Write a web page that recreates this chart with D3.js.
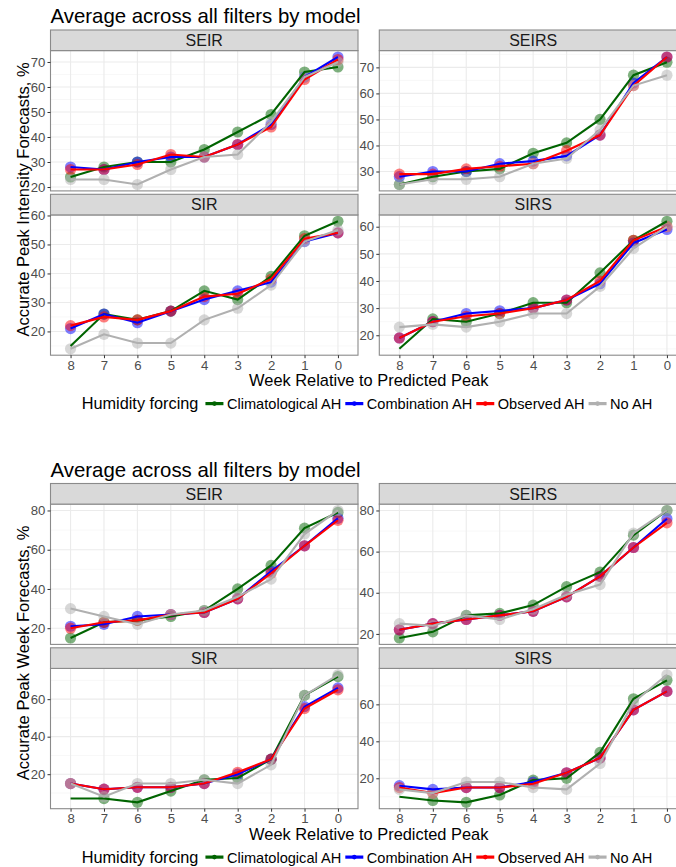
<!DOCTYPE html>
<html>
<head>
<meta charset="UTF-8">
<script src="https://d3js.org/d3.v7.min.js"></script>
<style>
  body { margin: 0; background: #fff; }
  text { font-family: "Liberation Sans", Arial, sans-serif; }
</style>
</head>
<body>
<script>
var width = 676, height = 867;

var weeks = [8, 7, 6, 5, 4, 3, 2, 1, 0];
var models = ["SEIR", "SEIRS", "SIR", "SIRS"];
var forcings = ["Climatological AH", "Combination AH", "Observed AH", "No AH"];
var colors = ["#006400", "#0000ff", "#ff0000", "#b0b0b0"];

// accurate peak intensity forecasts, % (one row per forcing, weeks 8 -> 0)
var intensitySEIR = [
  [24, 28, 30, 30, 35, 42, 49, 66, 68],
  [28, 27, 30, 32, 32, 37, 45, 64, 72],
  [27, 27, 29, 33, 32, 37, 44, 63, 71],
  [23, 23, 21, 27, 32, 33, 46, 64, 70]
];
var intensitySEIRS = [
  [25, 28, 30, 31, 37, 41, 50, 67, 72],
  [28, 30, 30, 33, 34, 36, 44, 64, 74],
  [29, 29, 31, 32, 33, 38, 44, 63, 74],
  [25, 27, 27, 28, 33, 35, 46, 63, 67]
];
var intensitySIR = [
  [15, 26, 24, 27, 34, 31, 39, 53, 58],
  [21, 26, 23, 27, 31, 34, 37, 51, 54],
  [22, 25, 24, 27, 32, 33, 38, 52, 54],
  [14, 19, 16, 16, 24, 28, 36, 51, 55]
];
var intensitySIRS = [
  [15, 26, 25, 28, 32, 32, 43, 55, 62],
  [19, 25, 28, 29, 30, 33, 39, 54, 59],
  [19, 25, 27, 28, 30, 33, 40, 55, 60],
  [23, 24, 23, 25, 28, 28, 38, 52, 60]
];

// accurate peak week forecasts, %
var peakWeekSEIR = [
  [15, 23, 24, 26, 29, 40, 52, 71, 79],
  [21, 22, 26, 27, 28, 35, 49, 62, 76],
  [20, 23, 24, 27, 28, 35, 48, 62, 75],
  [30, 26, 22, 27, 29, 36, 45, 68, 80]
];
var peakWeekSEIRS = [
  [18, 21, 29, 30, 34, 43, 50, 68, 80],
  [22, 25, 27, 29, 31, 38, 48, 62, 76],
  [22, 25, 27, 29, 31, 38, 48, 62, 74],
  [25, 24, 29, 27, 32, 39, 44, 69, 80]
];
var peakWeekSIR = [
  [7, 7, 5, 11, 17, 18, 28, 62, 72],
  [15, 12, 13, 13, 15, 20, 28, 56, 66],
  [15, 12, 13, 13, 15, 21, 28, 55, 65],
  [15, 8, 15, 15, 17, 15, 25, 62, 73]
];
var peakWeekSIRS = [
  [10, 8, 7, 11, 19, 20, 34, 63, 73],
  [16, 14, 15, 15, 18, 23, 31, 57, 67],
  [15, 12, 15, 15, 17, 23, 31, 57, 67],
  [14, 12, 18, 18, 15, 14, 28, 61, 76]
];

// points that have no marker drawn in the original (line only)
var noMarker = [["SIR", "Climatological AH", 8], ["SIRS", "Climatological AH", 8]];

var svg = d3.select("body").append("svg")
  .attr("width", width)
  .attr("height", height);

// panel columns (the right one runs off the picture, as in the original)
var panelX = [[50.5, 358], [379.3, 687]];
var stripH = 20.6, plotH = 140.3, rowGap = 3.4;

function hasMarker(model, forcing, wk) {
  return !noMarker.some(function (n) {
    return n[0] == model && n[1] == forcing && n[2] == wk;
  });
}

function drawChart(top, title, yTitle, panels) {
  var g = svg.append("g").attr("transform", "translate(0," + top + ")");

  g.append("text")
    .attr("x", 50.5)
    .attr("y", 23.3)
    .style("font-size", "20.4px")
    .attr("fill", "#000")
    .text(title);

  models.forEach(function (model, i) {
    var col = i % 2, row = Math.floor(i / 2);
    var x0 = panelX[col][0], x1 = panelX[col][1];
    var sy = 30 + row * (stripH + plotH + rowGap);
    var py0 = sy + stripH, py1 = py0 + plotH;
    var series = panels[i];

    var x = d3.scalePoint().domain(weeks).range([x0, x1]).padding(0.6);
    var all = d3.merge(series);
    var lo = d3.min(all), hi = d3.max(all), pad = (hi - lo) * 0.05;
    var y = d3.scaleLinear().domain([lo - pad, hi + pad]).range([py1, py0]);

    var majors = y.ticks(4);
    var step = majors[1] - majors[0];
    var minors = [];
    [majors[0] - step].concat(majors).forEach(function (m) {
      var v = m + step / 2;
      if (v > y.domain()[0] && v < y.domain()[1]) minors.push(v);
    });

    var p = g.append("g");

    // grid
    p.selectAll(".minor").data(minors).enter().append("line")
      .attr("x1", x0).attr("x2", x1)
      .attr("y1", y).attr("y2", y)
      .attr("stroke", "#f2f2f2").attr("stroke-width", 0.6);
    p.selectAll(".hmajor").data(majors).enter().append("line")
      .attr("x1", x0).attr("x2", x1)
      .attr("y1", y).attr("y2", y)
      .attr("stroke", "#ebebeb").attr("stroke-width", 1.1);
    p.selectAll(".vmajor").data(weeks).enter().append("line")
      .attr("x1", x).attr("x2", x)
      .attr("y1", py0).attr("y2", py1)
      .attr("stroke", "#ebebeb").attr("stroke-width", 1.1);

    // points first, lines on top
    series.forEach(function (vals, k) {
      var pts = weeks.map(function (w, j) { return { w: w, v: vals[j] }; })
        .filter(function (d) { return hasMarker(model, forcings[k], d.w); });
      p.selectAll(null).data(pts).enter().append("circle")
        .attr("cx", function (d) { return x(d.w); })
        .attr("cy", function (d) { return y(d.v); })
        .attr("r", 5.6)
        .attr("fill", colors[k])
        .attr("fill-opacity", 0.5);
    });

    var line = d3.line()
      .x(function (d, j) { return x(weeks[j]); })
      .y(function (d) { return y(d); });

    series.forEach(function (vals, k) {
      p.append("path")
        .attr("d", line(vals))
        .attr("fill", "none")
        .attr("stroke", colors[k])
        .attr("stroke-width", 2.1);
    });

    // panel border + strip
    p.append("rect")
      .attr("x", x0).attr("y", py0)
      .attr("width", x1 - x0).attr("height", plotH)
      .attr("fill", "none").attr("stroke", "#8a8a8a").attr("stroke-width", 1.1);
    p.append("rect")
      .attr("x", x0).attr("y", sy)
      .attr("width", x1 - x0).attr("height", stripH)
      .attr("fill", "#d9d9d9").attr("stroke", "#8a8a8a").attr("stroke-width", 1.1);
    p.append("text")
      .attr("x", (x0 + x1) / 2)
      .attr("y", sy + stripH / 2 + 5.7)
      .attr("text-anchor", "middle")
      .style("font-size", "16px")
      .attr("fill", "#1a1a1a")
      .text(model);

    // axes
    var ya = p.append("g")
      .attr("transform", "translate(" + x0 + ",0)")
      .call(d3.axisLeft(y).tickValues(majors).tickSize(3).tickPadding(2.2));
    styleAxis(ya);

    if (row == 1) {
      var xa = p.append("g")
        .attr("transform", "translate(0," + py1 + ")")
        .call(d3.axisBottom(x).tickSize(3).tickPadding(2.2));
      styleAxis(xa);
    }
  });

  // axis titles
  g.append("text")
    .attr("x", (panelX[0][0] + panelX[1][1]) / 2)
    .attr("y", 386)
    .attr("text-anchor", "middle")
    .style("font-size", "16.4px")
    .attr("fill", "#000")
    .text("Week Relative to Predicted Peak");

  g.append("text")
    .attr("transform", "translate(28.5,199.5) rotate(-90)")
    .attr("text-anchor", "middle")
    .style("font-size", "16.5px")
    .attr("fill", "#000")
    .text(yTitle);

  drawLegend(g, 409);
}

function styleAxis(a) {
  a.select(".domain").remove();
  a.selectAll(".tick line").attr("stroke", "#333").attr("stroke-width", 1);
  a.selectAll(".tick text")
    .attr("fill", "#4d4d4d")
    .style("font-size", "13.2px")
    .style("font-family", "'Liberation Sans', Arial, sans-serif");
}

function drawLegend(g, base) {
  var lg = g.append("g");
  var cx = 81.7;
  var t = lg.append("text")
    .attr("x", cx).attr("y", base)
    .style("font-size", "16.3px")
    .attr("fill", "#000")
    .text("Humidity forcing");
  cx += t.node().getComputedTextLength() + 7;
  forcings.forEach(function (f, k) {
    var ky = base - 5.4;
    lg.append("line")
      .attr("x1", cx).attr("x2", cx + 18)
      .attr("y1", ky).attr("y2", ky)
      .attr("stroke", colors[k]).attr("stroke-width", 3.2);
    lg.append("circle")
      .attr("cx", cx + 9).attr("cy", ky)
      .attr("r", 2.3)
      .attr("fill", colors[k]);
    cx += 18 + 3.5;
    var lt = lg.append("text")
      .attr("x", cx).attr("y", base)
      .style("font-size", "14.6px")
      .attr("fill", "#000")
      .text(f);
    cx += lt.node().getComputedTextLength() + 4;
  });
}

drawChart(0, "Average across all filters by model", "Accurate Peak Intensity Forecasts, %",
  [intensitySEIR, intensitySEIRS, intensitySIR, intensitySIRS]);
drawChart(453.5, "Average across all filters by model", "Accurate Peak Week Forecasts, %",
  [peakWeekSEIR, peakWeekSEIRS, peakWeekSIR, peakWeekSIRS]);
</script>
</body>
</html>
